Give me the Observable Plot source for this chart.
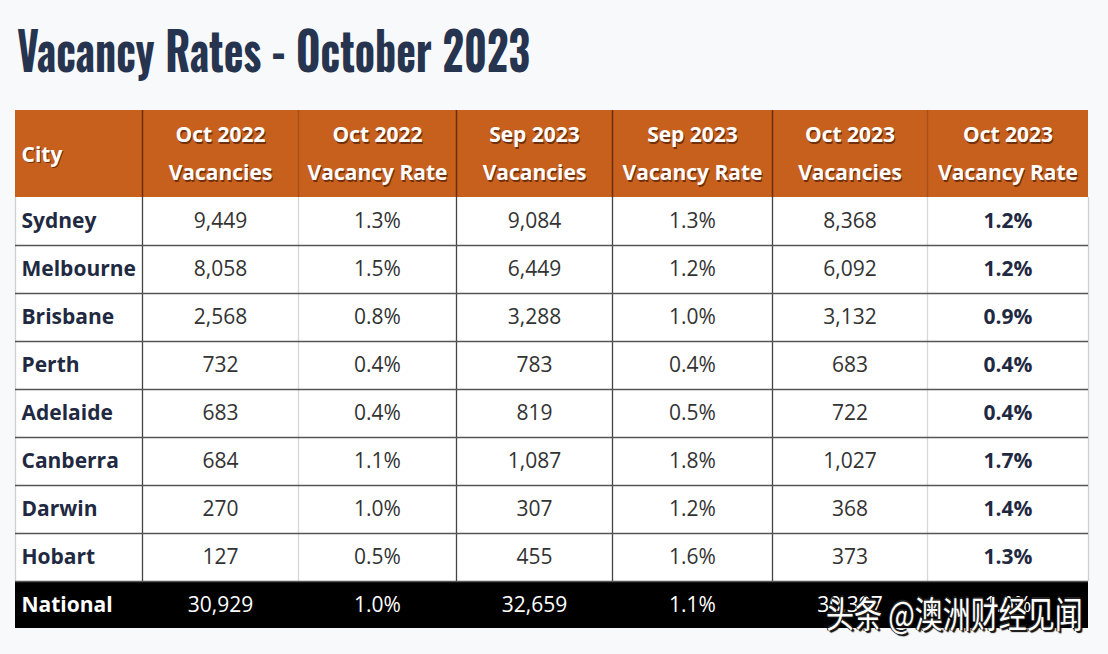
<!DOCTYPE html>
<html>
<head>
<meta charset="utf-8">
<script src="https://cdn.jsdelivr.net/npm/d3@7"></script>
<script src="https://cdn.jsdelivr.net/npm/@observablehq/plot@0.6"></script>
<style>
  html, body { margin: 0; padding: 0; background: #f8f9fa; }
  #wrap { position: relative; width: 1108px; height: 654px; overflow: hidden; background: #f8f9fa; }
  #titlebar { display: block; }
  #chart svg { display: block; }
  #wm {
    position: absolute; left: 826px; top: 586px;
    font-family: "Noto Sans CJK SC", sans-serif; font-size: 28px; color: #fff;
    white-space: nowrap; transform-origin: left top; transform: scaleY(1.3);
    text-shadow: 1px 1px 0 #222, -1px 0 0 #222, 0 -1px 0 #222, 2px 2px 1px #000;
  }
</style>
</head>
<body>
<div id="wrap">
  <svg id="titlebar" width="1108" height="100">
    <text x="17" y="72" font-family="Oswald, 'Liberation Sans Narrow', 'DejaVu Sans Condensed', 'Roboto Condensed', Roboto, sans-serif"
      font-weight="700" font-size="53" fill="#263450"
      textLength="513" lengthAdjust="spacingAndGlyphs">Vacancy Rates - October 2023</text>
  </svg>
  <div id="chart"></div>
  <div id="wm">头条 @澳洲财经见闻</div>
</div>
<script>
// ---- data ----
const headers = ["City", "Oct 2022\nVacancies", "Oct 2022\nVacancy Rate", "Sep 2023\nVacancies", "Sep 2023\nVacancy Rate", "Oct 2023\nVacancies", "Oct 2023\nVacancy Rate"];
const cities = ["Sydney", "Melbourne", "Brisbane", "Perth", "Adelaide", "Canberra", "Darwin", "Hobart", "National"];
const oct2022Vacancies = [9449, 8058, 2568, 732, 683, 684, 270, 127, 30929];
const oct2022Rate = [1.3, 1.5, 0.8, 0.4, 0.4, 1.1, 1.0, 0.5, 1.0];
const sep2023Vacancies = [9084, 6449, 3288, 783, 819, 1087, 307, 455, 32659];
const sep2023Rate = [1.3, 1.2, 1.0, 0.4, 0.5, 1.8, 1.2, 1.6, 1.1];
const oct2023Vacancies = [8368, 6092, 3132, 683, 722, 1027, 368, 373, 30397];
const oct2023Rate = [1.2, 1.2, 0.9, 0.4, 0.4, 1.7, 1.4, 1.3, 1.0];

// ---- layout (relative column widths / row heights) ----
const colWeights = [127, 156, 158, 156, 160, 155, 161];
const rowWeights = [87, 48, 48, 48, 48, 48, 48, 48, 48, 47];
const darkCols = new Set([1, 3, 4, 5]); // separators drawn darker (left edge of column index)

const xEdges = [0]; colWeights.forEach(w => xEdges.push(xEdges[xEdges.length - 1] + w));
const yEdges = [0]; rowWeights.forEach(h => yEdges.push(yEdges[yEdges.length - 1] + h));
const W = xEdges[xEdges.length - 1], H = yEdges[yEdges.length - 1];

const fmtN = d3.format(",");
const fmtP = v => d3.format(".1f")(v) + "%";
const series = [oct2022Vacancies, oct2022Rate, sep2023Vacancies, sep2023Rate, oct2023Vacancies, oct2023Rate];
const fmts = [fmtN, fmtP, fmtN, fmtP, fmtN, fmtP];

const headerCells = headers.map((h, c) => ({
  c, text: h, x1: xEdges[c], x2: xEdges[c + 1], y1: yEdges[0], y2: yEdges[1]
}));

const bodyCells = [];
cities.forEach((city, r) => {
  const nat = city === "National";
  const base = { r, nat, y1: yEdges[r + 1], y2: yEdges[r + 2] };
  bodyCells.push({ ...base, c: 0, text: city, x1: xEdges[0], x2: xEdges[1] });
  series.forEach((s, i) => {
    bodyCells.push({ ...base, c: i + 1, text: fmts[i](s[r]), x1: xEdges[i + 1], x2: xEdges[i + 2] });
  });
});

const cx = d => (d.x1 + d.x2) / 2;
const cy = d => (d.y1 + d.y2) / 2;

const innerX = xEdges.slice(1, -1).map((x, i) => ({ x, dark: darkCols.has(i + 1) }));
const rowLines = yEdges.slice(2, -1);

const hdrCity = headerCells.filter(d => d.c === 0);
const hdrCols = headerCells.filter(d => d.c > 0);
const cityCells = bodyCells.filter(d => d.c === 0);
const numRegular = bodyCells.filter(d => d.c > 0 && (d.c < 6 || d.nat));
const numBold = bodyCells.filter(d => d.c === 6 && !d.nat);

const hdrFont = { fontSize: 21, fontWeight: "bold" };

const plot = Plot.plot({
  width: 1108,
  height: 554,
  x: { domain: [0, W], range: [15, 1088], axis: null },
  y: { domain: [0, H], range: [10, 528], axis: null },
  style: { background: "transparent", fontFamily: "'Open Sans', sans-serif" },
  marks: [
    // header background
    Plot.rect(headerCells, { x1: "x1", x2: "x2", y1: "y1", y2: "y2", fill: "#c8601d" }),
    // body background
    Plot.rect(bodyCells, { x1: "x1", x2: "x2", y1: "y1", y2: "y2", fill: d => d.nat ? "#000" : "#fff" }),
    // header separators
    Plot.ruleX(innerX, { x: "x", y1: yEdges[0], y2: yEdges[1], stroke: d => d.dark ? "#6a2d0a" : "#a9501a", strokeWidth: 1.5 }),
    // body vertical lines
    Plot.ruleX(innerX, { x: "x", y1: yEdges[1], y2: yEdges[yEdges.length - 2], stroke: d => d.dark ? "#444" : "#d8d8d8", strokeWidth: 1.3 }),
    Plot.ruleX([0, W], { y1: yEdges[1], y2: yEdges[yEdges.length - 2], stroke: "#cfcfcf", strokeWidth: 1.3 }),
    // body horizontal lines
    Plot.ruleY(rowLines, { x1: 0, x2: W, stroke: "#555", strokeWidth: 1.3 }),
    // header text: shadow then white
    Plot.text(hdrCity, { x: "x1", y: cy, text: "text", dx: 7, dy: 2.5, textAnchor: "start", ...hdrFont, fill: "#5a2206", fillOpacity: 0.8 }),
    Plot.text(hdrCity, { x: "x1", y: cy, text: "text", dx: 6, dy: 1, textAnchor: "start", ...hdrFont, fill: "#fff" }),
    Plot.text(hdrCols, { x: cx, y: cy, text: "text", dx: 1, dy: -3.5, textAnchor: "middle", lineHeight: 1.82, ...hdrFont, fill: "#5a2206", fillOpacity: 0.8 }),
    Plot.text(hdrCols, { x: cx, y: cy, text: "text", dy: -5, textAnchor: "middle", lineHeight: 1.82, ...hdrFont, fill: "#fff" }),
    // city names
    Plot.text(cityCells, {
      x: "x1", y: cy, text: "text", dx: 6, textAnchor: "start",
      fontSize: 21, fontWeight: "bold", fill: d => d.nat ? "#fff" : "#1f2a42"
    }),
    // numbers
    Plot.text(numRegular, {
      x: cx, y: cy, text: "text", textAnchor: "middle",
      fontSize: 21, fill: d => d.nat ? "#fff" : "#333"
    }),
    Plot.text(numBold, {
      x: cx, y: cy, text: "text", textAnchor: "middle",
      fontSize: 21, fontWeight: "bold", fill: "#1f2a42"
    })
  ]
});
document.getElementById("chart").appendChild(plot);
</script>
</body>
</html>
